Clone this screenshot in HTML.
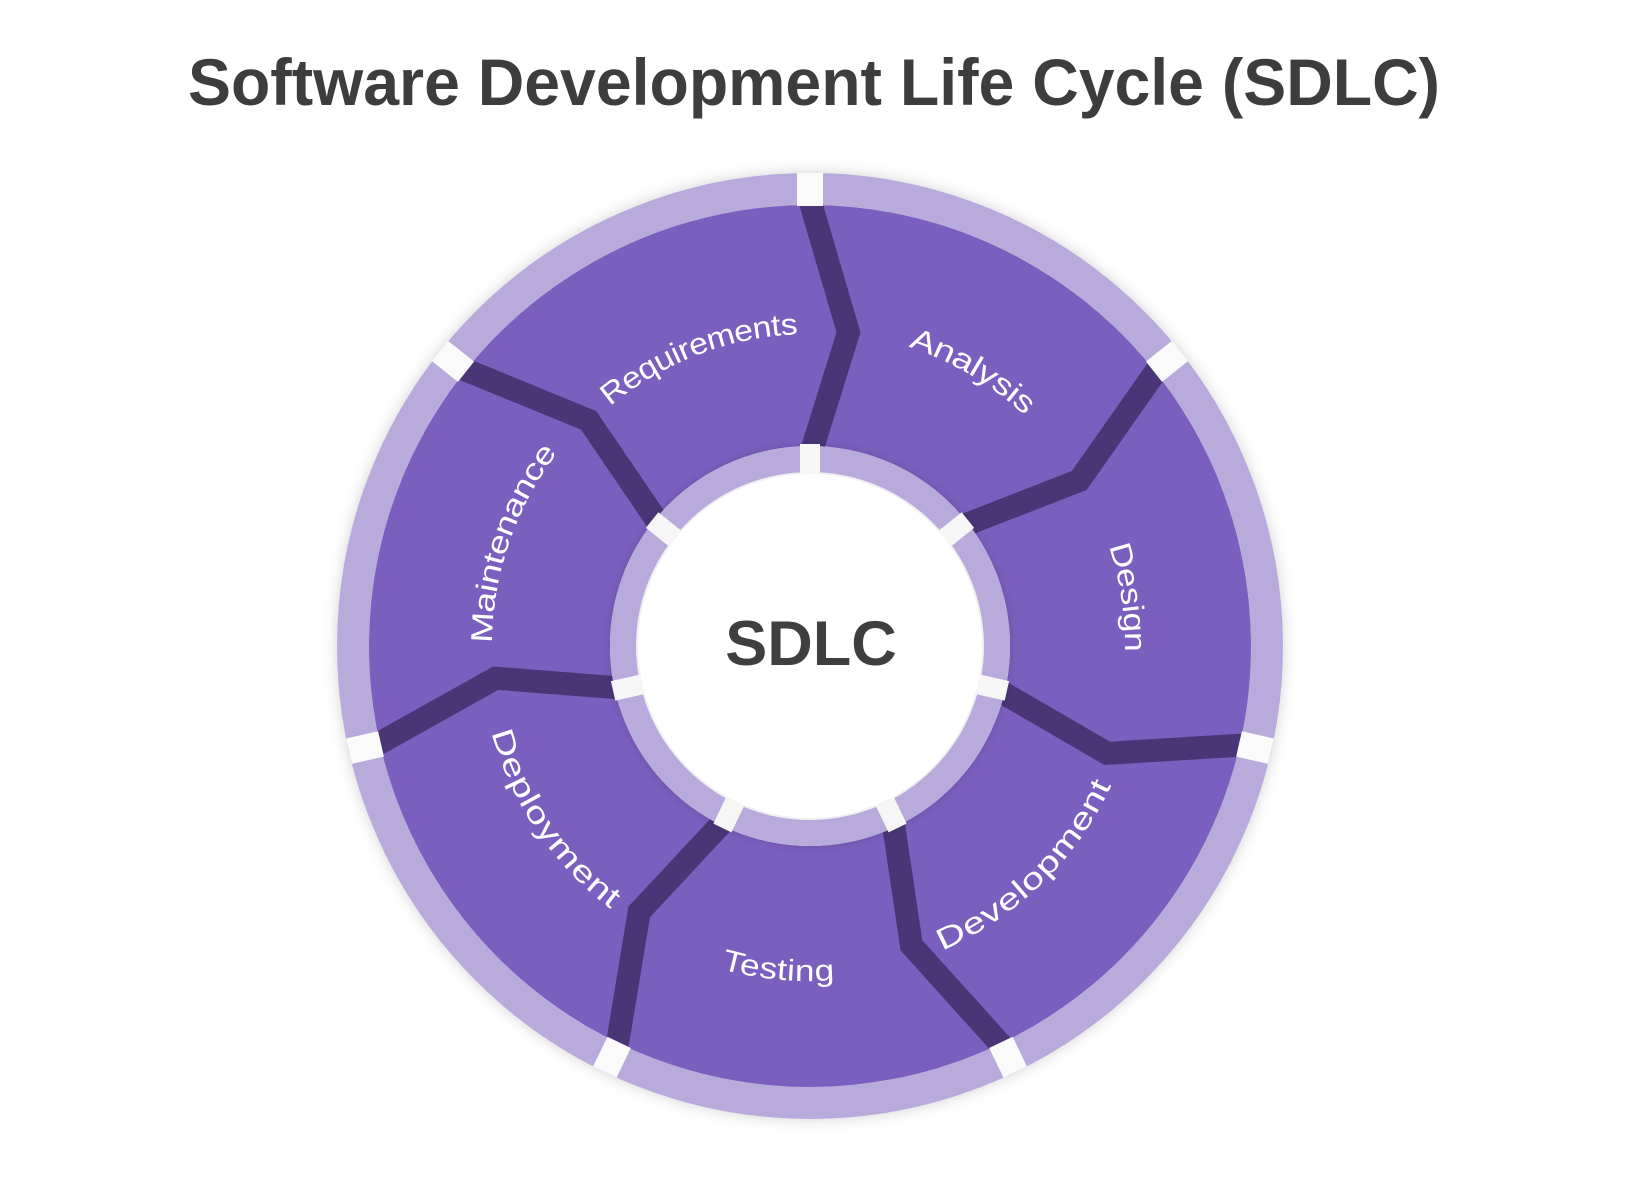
<!DOCTYPE html>
<html><head><meta charset="utf-8"><style>
html,body{margin:0;padding:0;background:#fff;}
svg{display:block;}
</style></head><body>
<svg width="1646" height="1184" viewBox="0 0 1646 1184" xmlns="http://www.w3.org/2000/svg">
<defs>
<filter id="sh" x="-20%" y="-20%" width="140%" height="140%">
<feDropShadow dx="0" dy="0" stdDeviation="7" flood-color="#000" flood-opacity="0.18"/>
</filter>
<filter id="sh2" x="-20%" y="-20%" width="140%" height="140%">
<feDropShadow dx="0" dy="0" stdDeviation="5" flood-color="#000" flood-opacity="0.15"/>
</filter>
<path id="pReq" d="M491.9,595.6 A322,322 0 0 1 1012.6,395.8"/>
<path id="pAna" d="M650.5,362.9 A325,325 0 0 1 1135,649.4"/>
<path id="pDes" d="M928.1,343.2 A325,325 0 0 1 1013.2,899.6"/>
<path id="pMai" d="M562.5,861.2 A328,328 0 0 1 747.4,324"/>
<path id="pDev" d="M722.9,956 A322,322 0 0 0 1122,566.5"/>
<path id="pTes" d="M514,780.3 A325,325 0 0 0 1074.3,835.2"/>
<path id="pDep" d="M522.4,505.7 A320,320 0 0 0 832.3,965.2"/>
</defs>

<text x="814" y="105" text-anchor="middle" textLength="1252" lengthAdjust="spacingAndGlyphs" font-family="Liberation Sans, sans-serif" font-weight="bold" font-size="66" fill="#3d3d40">Software Development Life Cycle (SDLC)</text>

<g filter="url(#sh)">
<circle cx="810" cy="646" r="457" fill="none" stroke="#b9aadc" stroke-width="32"/>
</g>
<circle cx="810" cy="646" r="441" fill="#7b5fbf"/>

<g fill="none" stroke="#4a3576" stroke-width="23" stroke-linejoin="miter">
<polyline points="810,456 848.5,332.4 810,201"/>
<polyline points="958.5,527.5 1079.2,480.5 1157.9,368.5"/>
<polyline points="995.2,688.3 1107.2,753.3 1243.8,745"/>
<polyline points="892.4,817.2 911.4,945.3 1003.1,1046.9"/>
<polyline points="727.6,817.2 639.2,911.9 616.9,1046.9"/>
<polyline points="624.8,688.3 495.6,678.2 376.2,745"/>
<polyline points="661.5,527.5 588.7,420.4 462.1,368.5"/>
</g>

<g stroke="#fafafa" stroke-width="26">
<line x1="810" y1="206" x2="810" y2="173"/>
<line x1="1154" y1="371.7" x2="1180" y2="351"/>
<line x1="1239" y1="743.9" x2="1271" y2="751.2"/>
<line x1="1000.9" y1="1042.4" x2="1015.2" y2="1072"/>
<line x1="619.1" y1="1042.4" x2="604.8" y2="1072"/>
<line x1="381" y1="743.9" x2="349" y2="751.2"/>
<line x1="466" y1="371.7" x2="440" y2="351"/>
</g>

<circle cx="810" cy="646" r="200" fill="#fff"/>
<g filter="url(#sh2)">
<circle cx="810" cy="646" r="187" fill="none" stroke="#b9aadc" stroke-width="26"/>
</g>
<g stroke="#f6f6f6" stroke-width="20">
<line x1="810" y1="474" x2="810" y2="444"/>
<line x1="944.5" y1="538.8" x2="967.9" y2="520.1"/>
<line x1="977.7" y1="684.3" x2="1006.9" y2="690.9"/>
<line x1="884.6" y1="801" x2="897.6" y2="828"/>
<line x1="735.4" y1="801" x2="722.4" y2="828"/>
<line x1="642.3" y1="684.3" x2="613.1" y2="690.9"/>
<line x1="675.5" y1="538.8" x2="652.1" y2="520.1"/>
</g>
<circle cx="810" cy="646" r="172" fill="#fff"/>

<text x="811" y="665" text-anchor="middle" font-family="Liberation Sans, sans-serif" font-weight="bold" font-size="63" fill="#3f3f42">SDLC</text>

<g font-family="Liberation Sans, sans-serif" font-size="30" fill="#ffffff" dominant-baseline="central">
<text><textPath href="#pReq" startOffset="50%" text-anchor="middle" textLength="211" lengthAdjust="spacingAndGlyphs">Requirements</textPath></text>
<text><textPath href="#pAna" startOffset="50%" text-anchor="middle" textLength="140" lengthAdjust="spacingAndGlyphs">Analysis</textPath></text>
<text><textPath href="#pDes" startOffset="50%" text-anchor="middle" textLength="110" lengthAdjust="spacingAndGlyphs">Design</textPath></text>
<text><textPath href="#pMai" startOffset="50%" text-anchor="middle" textLength="211" lengthAdjust="spacingAndGlyphs">Maintenance</textPath></text>
<text><textPath href="#pDev" startOffset="50%" text-anchor="middle" textLength="235" lengthAdjust="spacingAndGlyphs">Development</textPath></text>
<text><textPath href="#pTes" startOffset="50%" text-anchor="middle" textLength="112" lengthAdjust="spacingAndGlyphs">Testing</textPath></text>
<text><textPath href="#pDep" startOffset="50%" text-anchor="middle" textLength="211" lengthAdjust="spacingAndGlyphs">Deployment</textPath></text>
</g>
</svg>
</body></html>
